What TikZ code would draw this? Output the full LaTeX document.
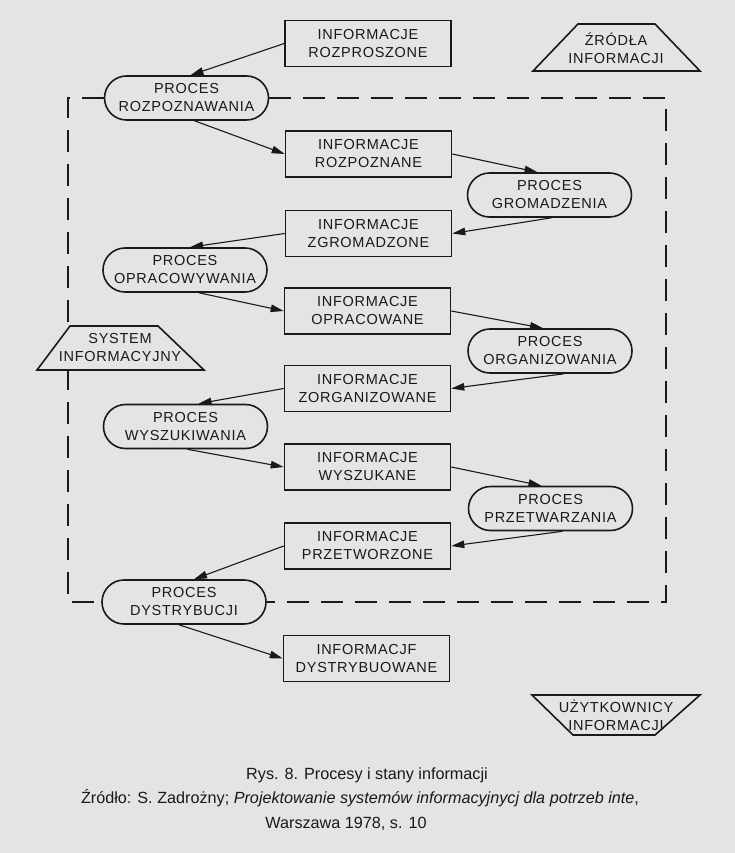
\documentclass[tikz,border=0pt]{standalone}
\usepackage{fontspec}
\setmainfont{Liberation Sans}
\newfontfamily\diagfont[LetterSpace=5]{Liberation Sans}
\usetikzlibrary{arrows.meta,shapes.misc}
\definecolor{paper}{RGB}{228,228,230}
\definecolor{ink}{RGB}{25,25,25}
\begin{document}
\begin{tikzpicture}[x=1pt,y=-1pt,
  lbl/.style={inner sep=0pt, align=center, text=ink, font=\diagfont\fontsize{14.5}{18}\selectfont},
  statebox/.style={lbl, draw=ink, line width=1.6pt, minimum width=166pt, minimum height=46pt},
  procbox/.style={lbl, draw=ink, line width=1.6pt, rounded rectangle, fill=paper, minimum width=164pt, minimum height=44pt},
  trapbox/.style={draw=ink, line width=1.6pt, fill=paper, line join=miter},
  link/.style={draw=ink, line width=1.1pt, -{Triangle[length=13pt,width=7.5pt]}},
  sysline/.style={draw=ink, line width=1.8pt, dash pattern=on 22pt off 12pt},
  captxt/.style={inner sep=0pt, anchor=base, text=ink, font=\fontsize{16.2}{19}\selectfont}
]
\fill[paper] (0,0) rectangle (735,853);
\useasboundingbox (0,0) rectangle (735,853);

% process nodes (left and right columns)
\node[procbox] (p1) at (186.5,98) {PROCES\\ROZPOZNAWANIA};
\node[procbox] (p2) at (549.5,195) {PROCES\\GROMADZENIA};
\node[procbox] (p3) at (185,270) {PROCES\\OPRACOWYWANIA};
\node[procbox] (p4) at (550,351) {PROCES\\ORGANIZOWANIA};
\node[procbox] (p5) at (185.5,426.5) {PROCES\\WYSZUKIWANIA};
\node[procbox] (p6) at (550.5,508.5) {PROCES\\PRZETWARZANIA};
\node[procbox] (p7) at (184,602) {PROCES\\DYSTRYBUCJI};

% system boundary
\draw[sysline] (p1.west) -- (68,98) -- (68,602) -- (p7.west);
\draw[sysline] (p1.east) -- (666,98) -- (666,602) -- (p7.east);

% trapezoids
\draw[trapbox] (578,24) -- (655,24) -- (700,71) -- (533,71) -- cycle;
\node[lbl] (src) at (616,48) {ŹRÓDŁA\\INFORMACJI};
\draw[trapbox] (70,326) -- (158,326) -- (204,370) -- (37,370) -- cycle;
\node[lbl] (sys) at (120,348) {SYSTEM\\INFORMACYJNY};
\draw[trapbox] (532,695) -- (700,695) -- (655,735) -- (573,735) -- cycle;
\node[lbl] (usr) at (616,715) {UŻYTKOWNICY\\INFORMACJI};

% state nodes (middle column)
\node[statebox] (s1) at (368,43.5) {INFORMACJE\\ROZPROSZONE};
\node[statebox] (s2) at (368.5,154) {INFORMACJE\\ROZPOZNANE};
\node[statebox] (s3) at (368.5,233.5) {INFORMACJE\\ZGROMADZONE};
\node[statebox] (s4) at (367.5,311) {INFORMACJE\\OPRACOWANE};
\node[statebox] (s5) at (367.5,388.5) {INFORMACJE\\ZORGANIZOWANE};
\node[statebox] (s6) at (367.5,467) {INFORMACJE\\WYSZUKANE};
\node[statebox] (s7) at (367.5,546) {INFORMACJE\\PRZETWORZONE};
\node[statebox] (s8) at (366.5,658.5) {INFORMACJF\\DYSTRYBUOWANE};

% connectors
\draw[link] (s1.west) -- ([xshift=4pt]p1.north);
\draw[link] ([xshift=8pt]p1.south) -- (s2.west);
\draw[link] (s2.east) -- ([xshift=-12pt]p2.north);
\draw[link] ([xshift=2pt]p2.south) -- (s3.east);
\draw[link] (s3.west) -- ([xshift=5pt]p3.north);
\draw[link] ([xshift=14pt]p3.south) -- (s4.west);
\draw[link] (s4.east) -- ([xshift=-7pt]p4.north);
\draw[link] ([xshift=14pt]p4.south) -- (s5.east);
\draw[link] (s5.west) -- ([xshift=13pt]p5.north);
\draw[link] ([xshift=2pt]p5.south) -- (s6.west);
\draw[link] (s6.east) -- ([xshift=-9pt]p6.north);
\draw[link] ([xshift=12pt]p6.south) -- (s7.east);
\draw[link] (s7.west) -- ([xshift=10pt]p7.north);
\draw[link] ([xshift=-5pt]p7.south) -- (s8.west);

% caption
\node[captxt] (c1) at (367,779) {Rys. 8. Procesy i stany informacji};
\node[captxt] (c2) at (360,803) {Źródło: S. Zadrożny; \textit{Projektowanie systemów informacyjnycj dla potrzeb inte},};
\node[captxt] (c3) at (346,828) {Warszawa 1978, s. 10};
\end{tikzpicture}
\end{document}
